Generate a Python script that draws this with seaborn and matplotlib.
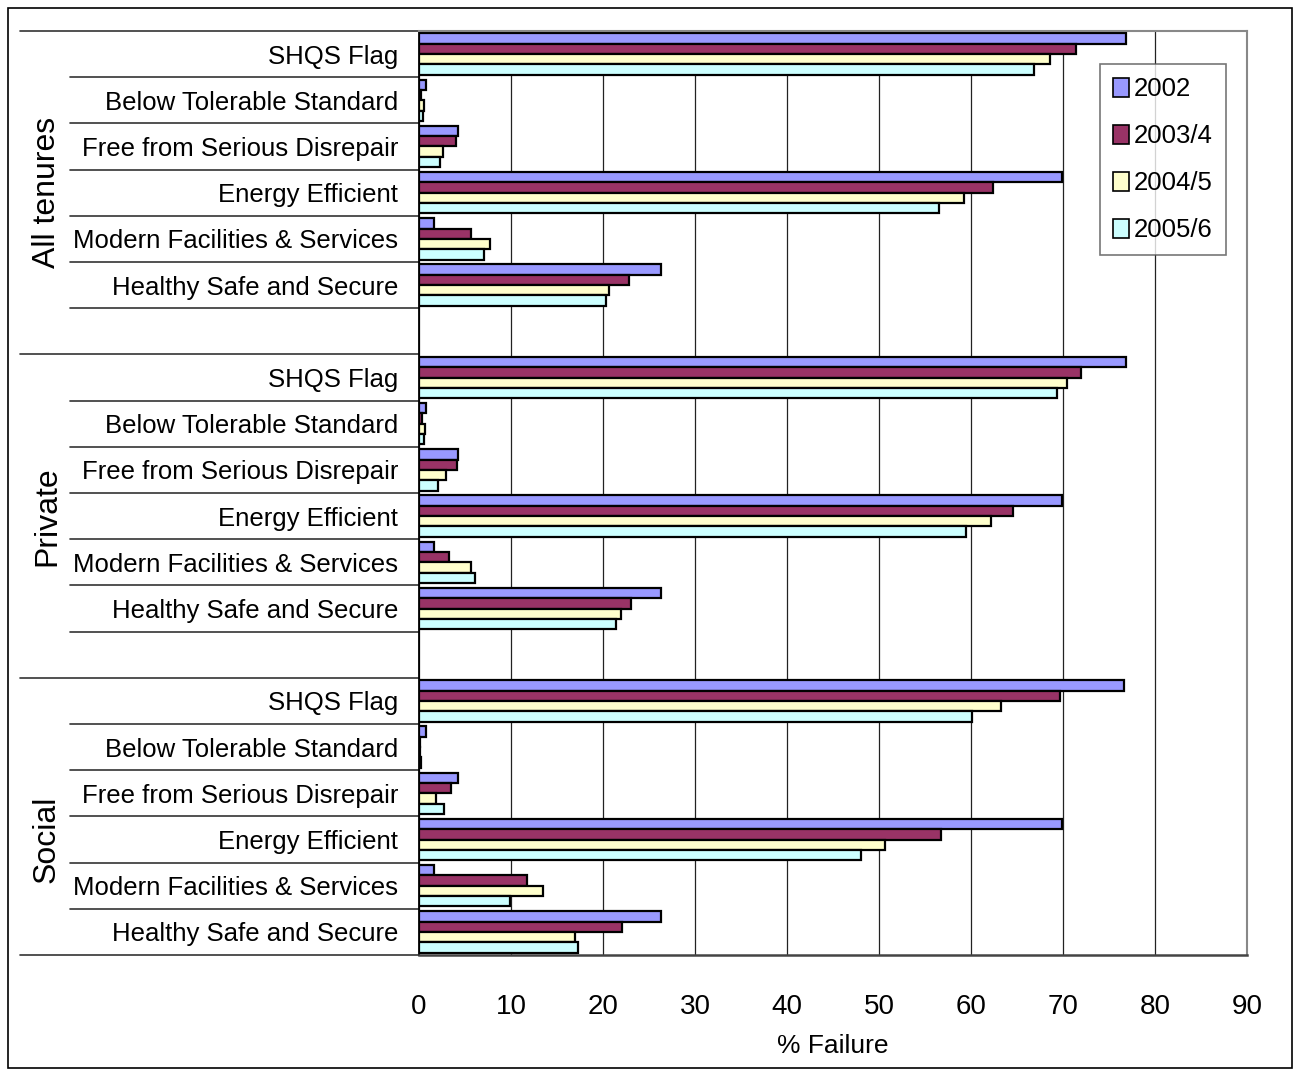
import numpy as np
import pandas as pd
import matplotlib
matplotlib.use("Agg")
import matplotlib.pyplot as plt
import matplotlib.transforms as mtransforms
from matplotlib.patches import Rectangle, Patch
from matplotlib.lines import Line2D
import seaborn as sns

# ---------------- data ----------------
groups = ["All tenures", "Private", "Social"]
criteria = ["SHQS Flag", "Below Tolerable Standard", "Free from Serious Disrepair",
            "Energy Efficient", "Modern Facilities & Services", "Healthy Safe and Secure"]
years = ["2002", "2003/4", "2004/5", "2005/6"]

all_2002 = [76.8, 0.8, 4.2, 69.9, 1.6, 26.3]
all_2003 = [71.4, 0.25, 4.0, 62.4, 5.6, 22.8]
all_2004 = [68.6, 0.55, 2.6, 59.2, 7.75, 20.7]
all_2005 = [66.8, 0.45, 2.3, 56.5, 7.1, 20.3]

priv_2002 = [76.9, 0.8, 4.2, 69.9, 1.6, 26.3]
priv_2003 = [72.0, 0.3, 4.15, 64.6, 3.3, 23.0]
priv_2004 = [70.4, 0.7, 2.9, 62.2, 5.6, 22.0]
priv_2005 = [69.3, 0.5, 2.1, 59.5, 6.1, 21.4]

soc_2002 = [76.6, 0.8, 4.2, 69.9, 1.6, 26.3]
soc_2003 = [69.7, 0.15, 3.5, 56.7, 11.7, 22.1]
soc_2004 = [63.3, 0.1, 1.85, 50.7, 13.5, 17.0]
soc_2005 = [60.1, 0.2, 2.75, 48.0, 9.9, 17.25]

colors = ["#9999FF", "#993366", "#FFFFCC", "#CCFFFF"]
x_ticks = [0, 10, 20, 30, 40, 50, 60, 70, 80, 90]
x_label = "% Failure"

series = {
    "All tenures": [all_2002, all_2003, all_2004, all_2005],
    "Private": [priv_2002, priv_2003, priv_2004, priv_2005],
    "Social": [soc_2002, soc_2003, soc_2004, soc_2005],
}

rows = []
for g in groups:
    for yi, yr in enumerate(years):
        for ci, c in enumerate(criteria):
            rows.append({"slot": f"{g}|{c}", "year": yr, "value": series[g][yi][ci]})
df = pd.DataFrame(rows)

order = []
for gi, g in enumerate(groups):
    order += [f"{g}|{c}" for c in criteria]
    if gi < len(groups) - 1:
        order.append(f"gap{gi}")

# ---------------- style ----------------
sns.set_theme(style="white")
plt.rcParams["font.family"] = ["Liberation Sans", "DejaVu Sans"]

W, H = 1294, 1071
fig = plt.figure(figsize=(W / 100, H / 100), dpi=100)
ax = fig.add_axes([419 / W, 1 - 955 / H, (1247 - 419) / W, (955 - 31) / H])

sns.barplot(data=df, x="value", y="slot", hue="year", order=order, hue_order=years,
            palette=colors, orient="h", width=0.9, edgecolor="black", linewidth=1.6,
            saturation=1, ax=ax, legend=False)

ax.set_xlim(0, 90)
ax.set_ylim(len(order) - 0.5, -0.5)
ax.set_xticks(x_ticks)
ax.set_xticklabels([str(t) for t in x_ticks], fontsize=20)
ax.tick_params(axis="x", length=8, width=1, color="#333333", pad=20, direction="out",
               labelcolor="black")
ax.xaxis.grid(True, color="#222222", linewidth=0.9)
ax.set_axisbelow(True)
ax.set_xlabel(x_label, fontsize=19, labelpad=10, color="black")
ax.set_ylabel("")

ylabels = [s.split("|")[1] if "|" in s else "" for s in order]
ax.set_yticks(range(len(order)))
ax.set_yticklabels(ylabels, fontsize=18.5, color="black")
ax.tick_params(axis="y", length=0, pad=15)

for sp in ["top", "right"]:
    ax.spines[sp].set_color("#888888")
    ax.spines[sp].set_linewidth(1.5)
ax.spines["left"].set_color("black")
ax.spines["left"].set_linewidth(1.3)
ax.spines["bottom"].set_color("#444444")
ax.spines["bottom"].set_linewidth(1.8)

# category separator lines and group labels
bt = mtransforms.blended_transform_factory(fig.transFigure, ax.transData)
starts = [0, 7, 14]
for gi, s in enumerate(starts):
    ax.add_line(Line2D([20 / W, 419 / W], [s - 0.5, s - 0.5], transform=bt,
                       color="#333333", lw=1.2, clip_on=False))
    for k in range(1, 7):
        y = s + k - 0.5
        x0 = 20 / W if (gi == 2 and k == 6) else 70 / W
        ax.add_line(Line2D([x0, 419 / W], [y, y], transform=bt,
                           color="#333333", lw=1.2, clip_on=False))
    ax.text(47 / W, s + 3, groups[gi], transform=bt, rotation=90, ha="center",
            va="center", fontsize=23, color="black")

# legend
handles = [Patch(facecolor=c, edgecolor="black", linewidth=1.2) for c in colors]
leg = ax.legend(handles, years, loc="upper left", bbox_to_anchor=(0.8225, 0.964),
                borderaxespad=0, fontsize=18.5, frameon=True, fancybox=False,
                edgecolor="#555555", handlelength=0.62, handleheight=0.78,
                handletextpad=0.2, labelspacing=0.9, borderpad=0.5)
leg.get_frame().set_linewidth(1.2)
for t in leg.get_texts():
    t.set_color("black")

# outer chart border
fig.add_artist(Rectangle((8 / W, 1 - 1068 / H), (1292 - 8) / W, (1068 - 8) / H,
                         transform=fig.transFigure, fill=False, edgecolor="black", lw=1.2))

fig.savefig("out.png", dpi=100)
